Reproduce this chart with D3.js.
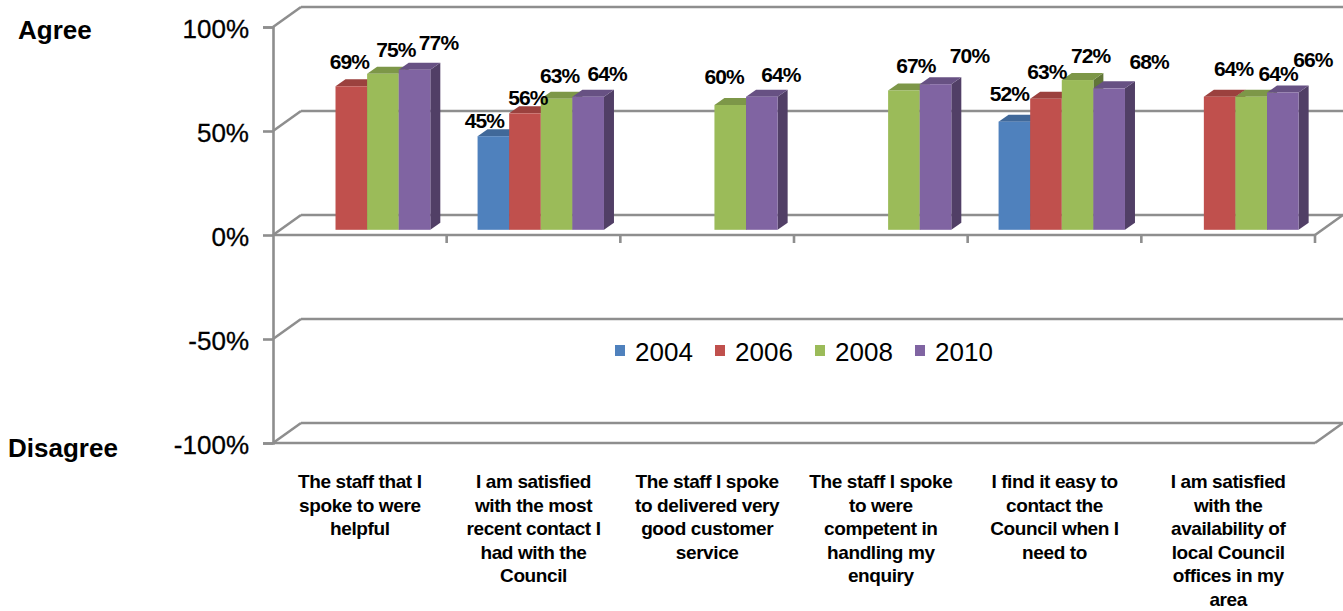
<!DOCTYPE html>
<html>
<head>
<meta charset="utf-8">
<script src="https://cdn.jsdelivr.net/npm/d3@7"></script>
<style>
  html, body { margin: 0; padding: 0; background: #ffffff; }
  svg { display: block; font-family: "Liberation Sans", Arial, sans-serif; }
</style>
</head>
<body>
<svg id="chart" width="1343" height="611"></svg>
<script>
// ---- data ----
const categories = [
  ["The staff that I", "spoke to were", "helpful"],
  ["I am satisfied", "with the most", "recent contact I", "had with the", "Council"],
  ["The staff I spoke", "to delivered very", "good customer", "service"],
  ["The staff I spoke", "to were", "competent in", "handling my", "enquiry"],
  ["I find it easy to", "contact the", "Council when  I", "need to"],
  ["I am satisfied", "with the", "availability of", "local Council", "offices in my", "area"]
];
const seriesNames = ["2004", "2006", "2008", "2010"];
const values2004 = [null, 45, null, null, 52, null];
const values2006 = [69, 56, null, null, 63, 64];
const values2008 = [75, 63, 60, 67, 72, 64];
const values2010 = [77, 64, 64, 70, 68, 66];
const seriesValues = [values2004, values2006, values2008, values2010];
const yTicks = [-100, -50, 0, 50, 100];

// ---- style / layout ----
const colors = ["#4F81BD", "#C0504D", "#9BBB59", "#8064A2"];
const gridColor = "#8e8e8e";
// label nudges (horizontal shift and gap above each bar), per category and series
const labelDx = [
  [0, -2, 13, 24], [-9, 3, 3, 19], [0, 0, -6, 19],
  [0, 0, 12, 34], [-5, 1, 13, 40], [0, 14, 27, 30]
];
const labelGap = [
  [0, 17, 17, 20], [8, 8, 16, 16], [0, 0, 21, 15],
  [0, 0, 17, 21], [21, 20, 17, 19], [0, 21, 16, 26]
];

const svg = d3.select("#chart");

const y = d3.scaleLinear().domain([-100, 100]).range([443, 27]);
const x0 = d3.scaleBand().domain(d3.range(categories.length)).range([273, 1315]);
const groupW = 126.4;
const x1 = d3.scaleBand().domain(d3.range(seriesNames.length)).range([0, groupW]);

// wall depth offset and the depth at which bars stand
const wall = { dx: 28, dy: -20 };
const depthT = 0.26;
const barShift = { dx: wall.dx * depthT, dy: wall.dy * depthT };
const face = { dx: 10, dy: -7 };

// ---- walls, floor and gridlines ----
const grid = svg.append("g").attr("stroke", gridColor).attr("stroke-width", 2.6).attr("fill", "none");
const xLeft = x0.range()[0], xRight = x0.range()[1];
yTicks.forEach(v => {
  const yf = y(v);
  // side wall diagonal
  grid.append("line").attr("x1", xLeft).attr("y1", yf).attr("x2", xLeft + wall.dx).attr("y2", yf + wall.dy);
  // back wall gridline
  grid.append("line").attr("x1", xLeft + wall.dx).attr("y1", yf + wall.dy).attr("x2", 1345).attr("y2", yf + wall.dy);
  if (v === 0 || v === -100) {
    // floor edges
    grid.append("line").attr("x1", xLeft).attr("y1", yf).attr("x2", xRight).attr("y2", yf);
    grid.append("line").attr("x1", xRight).attr("y1", yf).attr("x2", xRight + wall.dx).attr("y2", yf + wall.dy);
  }
});

// category axis ticks at band boundaries
x0.domain().forEach(i => {
  const xb = x0(i) + x0.bandwidth();
  grid.append("line").attr("x1", xb).attr("y1", y(0)).attr("x2", xb).attr("y2", y(0) + 8);
});

// ---- value axis ----
const yAxis = d3.axisLeft(y)
  .tickValues(yTicks)
  .tickFormat(d => d + "%")
  .tickSize(10)
  .tickPadding(14);
const ya = svg.append("g").attr("transform", `translate(${xLeft},0)`).call(yAxis);
ya.select(".domain").attr("stroke", gridColor).attr("stroke-width", 2.6);
ya.selectAll(".tick line").attr("stroke", gridColor).attr("stroke-width", 2.6);
ya.selectAll(".tick text")
  .attr("fill", "#000")
  .attr("font-family", "'Liberation Sans', Arial, sans-serif")
  .attr("font-size", 26)
  .attr("stroke", "#000").attr("stroke-width", 0.3)
  .attr("dy", "0.42em");

// ---- bars ----
const bars = svg.append("g");
const zeroY = y(0) + barShift.dy;
const barY = v => y(v) + barShift.dy;
const labels = [];
categories.forEach((cat, ci) => {
  seriesValues.forEach((vals, si) => {
    const v = vals[ci];
    if (v == null) return;
    const bx = x0(ci) + (x0.bandwidth() - groupW) / 2 + barShift.dx + x1(si);
    const bw = x1.bandwidth();
    const top = barY(v);
    const base = d3.color(colors[si]);
    const g = bars.append("g");
    // side face
    g.append("path")
      .attr("d", `M${bx + bw},${top} L${bx + bw + face.dx},${top + face.dy} L${bx + bw + face.dx},${zeroY + face.dy} L${bx + bw},${zeroY} Z`)
      .attr("fill", base.darker(1.3));
    // top face
    g.append("path")
      .attr("d", `M${bx},${top} L${bx + face.dx},${top + face.dy} L${bx + bw + face.dx},${top + face.dy} L${bx + bw},${top} Z`)
      .attr("fill", base.darker(0.6));
    // front face
    g.append("rect")
      .attr("x", bx).attr("y", top)
      .attr("width", bw).attr("height", zeroY - top)
      .attr("fill", colors[si]);
    labels.push({ x: bx + bw / 2 + labelDx[ci][si], y: top - labelGap[ci][si], text: v + "%" });
  });
});

// value labels
svg.append("g").selectAll("text").data(labels).join("text")
  .attr("x", d => d.x).attr("y", d => d.y)
  .attr("text-anchor", "middle")
  .attr("font-size", 21)
  .attr("font-weight", "bold")
  .attr("letter-spacing", -0.9)
  .attr("fill", "#000")
  .text(d => d.text);

// ---- category labels ----
const catG = svg.append("g");
categories.forEach((lines, ci) => {
  const t = catG.append("text")
    .attr("x", x0(ci) + x0.bandwidth() / 2)
    .attr("y", 488)
    .attr("text-anchor", "middle")
    .attr("font-size", 19)
    .attr("font-weight", "bold")
    .attr("letter-spacing", -0.4)
    .attr("fill", "#000");
  lines.forEach((ln, li) => {
    t.append("tspan")
      .attr("x", x0(ci) + x0.bandwidth() / 2)
      .attr("y", 488 + li * 23.5)
      .text(ln);
  });
});

// ---- Agree / Disagree ----
svg.append("text").attr("x", 18).attr("y", 39)
  .attr("font-size", 26).attr("font-weight", "bold").text("Agree");
svg.append("text").attr("x", 8).attr("y", 457)
  .attr("font-size", 26).attr("font-weight", "bold").text("Disagree");

// ---- legend ----
const legend = svg.append("g").attr("transform", "translate(615,345)");
seriesNames.forEach((name, i) => {
  const item = legend.append("g").attr("transform", `translate(${i * 100},0)`);
  item.append("rect").attr("width", 10).attr("height", 11).attr("fill", colors[i]);
  item.append("text").attr("x", 20).attr("y", 16)
    .attr("font-size", 26).attr("fill", "#000").text(name);
});
</script>
</body>
</html>
